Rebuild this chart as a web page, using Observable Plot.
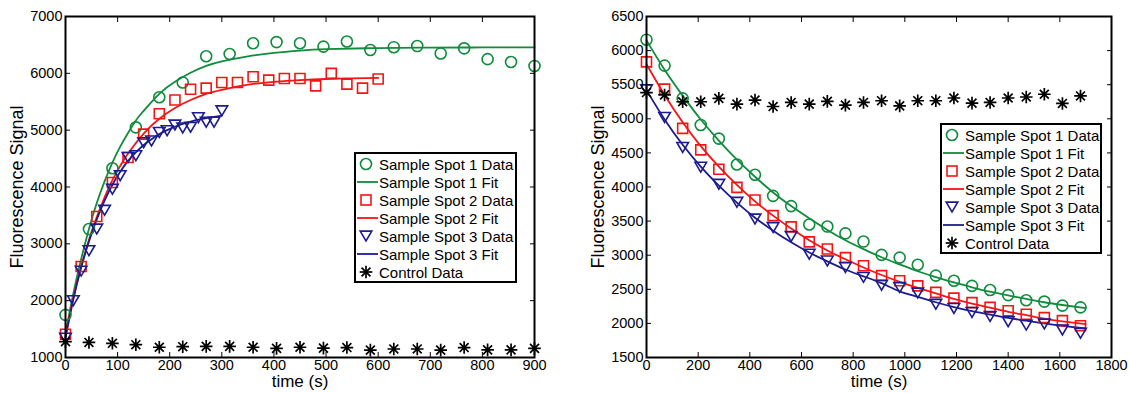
<!DOCTYPE html>
<html><head><meta charset="utf-8">
<script src="https://cdn.jsdelivr.net/npm/d3@7"></script>
<script src="https://cdn.jsdelivr.net/npm/@observablehq/plot@0.6"></script>
<style>
body{margin:0;background:#fff;width:1129px;height:393px;overflow:hidden;position:relative;font-family:"Liberation Sans",Arial,Helvetica,sans-serif;}
.panel{position:absolute;top:0;}
.legend{position:absolute;box-sizing:border-box;border:2px solid #000;background:#fff;padding-top:1px;height:131px;}
.row{display:flex;align-items:center;height:18px;font-size:15px;white-space:nowrap;color:#000;}
.row svg{flex:none;}
</style></head><body>
<div id="left" class="panel" style="left:0"></div>
<div id="right" class="panel" style="left:560px"></div>
<script>
// ---------- data: left panel (association) ----------
const leftTime1 = [0,45,90,135,180,225,270,315,360,405,450,495,540,585,630,675,720,765,810,855,900];
const leftSpot1 = [1750,3260,4330,5050,5580,5840,6300,6340,6530,6550,6530,6470,6560,6410,6460,6480,6350,6440,6250,6200,6130];
const leftTime2 = [0,30,60,90,120,150,180,210,240,270,300,330,360,390,420,450,480,510,540,570,600];
const leftSpot2 = [1410,2600,3480,4080,4520,4930,5290,5530,5720,5740,5840,5840,5940,5880,5910,5910,5780,6000,5810,5740,5900];
const leftTime3 = [0,15,30,45,60,75,90,105,120,135,150,165,180,195,210,225,240,255,270,285,300];
const leftSpot3 = [1340,2000,2520,2880,3260,3590,3960,4200,4520,4550,4780,4810,4960,4990,5090,5040,5050,5220,5140,5140,5340];
const leftControl = [1280,1265,1250,1225,1180,1190,1195,1195,1180,1160,1180,1165,1175,1130,1150,1150,1130,1175,1135,1135,1160];

const leftFitTime1 = [0,10,20,30,45,60,75,90,105,120,135,150,180,210,240,270,300,350,400,450,500,600,700,800,900];
const leftFit1 = [1420,1900,2340,2730,3260,3720,4100,4430,4710,4950,5170,5340,5640,5850,6010,6130,6210,6300,6360,6400,6425,6445,6452,6455,6455];
const leftFitTime2 = [0,10,20,30,45,60,75,90,105,120,150,180,210,240,270,300,350,400,450,500,550,600];
const leftFit2 = [1415,1850,2245,2600,3070,3470,3820,4120,4370,4590,4940,5200,5390,5530,5640,5710,5800,5850,5880,5900,5912,5920];
const leftFitTime3 = [0,15,30,45,60,75,90,105,120,135,150,165,180,195,210,225,240,255,270,285,300];
const leftFit3 = [1340,2020,2580,3040,3430,3760,4040,4270,4460,4610,4740,4840,4930,5000,5060,5110,5150,5185,5210,5235,5255];

// ---------- data: right panel (dissociation) ----------
const rightTime = [0,70,140,210,280,350,420,490,560,630,700,770,840,910,980,1050,1120,1190,1260,1330,1400,1470,1540,1610,1680];
const rightSpot1 = [6160,5780,5300,4910,4710,4330,4180,3870,3720,3450,3420,3320,3200,3005,2965,2860,2700,2625,2550,2490,2415,2340,2320,2260,2235];
const rightSpot2 = [5835,5435,4860,4545,4260,3995,3810,3580,3415,3195,3090,2965,2845,2700,2625,2550,2455,2370,2305,2235,2185,2135,2085,2040,1965];
const rightSpot3 = [5425,5020,4580,4290,4040,3775,3530,3405,3275,3015,2915,2820,2675,2560,2525,2445,2280,2220,2160,2100,2025,1975,1990,1905,1855];
const rightControl = [5385,5350,5250,5250,5300,5215,5275,5180,5240,5215,5255,5200,5240,5265,5190,5265,5265,5305,5230,5240,5305,5320,5360,5225,5335];

const rightFitTime = [0,70,140,210,280,350,420,490,560,630,700,770,840,910,980,1050,1120,1190,1260,1330,1400,1470,1540,1610,1700];
const rightFit1 = [6150,5720,5340,4990,4680,4400,4150,3920,3720,3540,3370,3220,3090,2970,2865,2765,2680,2600,2530,2465,2410,2360,2310,2270,2225];
const rightFit2 = [5800,5350,4950,4600,4300,4030,3790,3580,3390,3220,3070,2940,2820,2710,2610,2520,2440,2360,2290,2230,2170,2120,2070,2030,1990];
const rightFit3 = [5420,4990,4620,4300,4020,3770,3550,3360,3190,3040,2910,2790,2690,2590,2470,2390,2310,2240,2180,2130,2080,2040,2000,1965,1925];

// ---------- axes ----------
const leftXTicks = [0,100,200,300,400,500,600,700,800,900];
const leftYTicks = [1000,2000,3000,4000,5000,6000,7000];
const rightXTicks = [0,200,400,600,800,1000,1200,1400,1600,1800];
const rightYTicks = [1500,2000,2500,3000,3500,4000,4500,5000,5500,6000,6500];

const legendLabels = ["Sample Spot 1 Data","Sample Spot 1 Fit","Sample Spot 2 Data","Sample Spot 2 Fit","Sample Spot 3 Data","Sample Spot 3 Fit","Control Data"];

const GREEN = "#0f8c3c", RED = "#f51414", BLUE = "#1c1c8f", BLACK = "#000";

// ---------- marker symbols ----------
const squareSym = {draw(c, size){const r = Math.sqrt(size/Math.PI); c.rect(-r,-r,2*r,2*r);}};
const triDownSym = {draw(c, size){const r = Math.sqrt(size/Math.PI); const h = 0.85*r; c.moveTo(-r,-h); c.lineTo(r,-h); c.lineTo(0,h); c.closePath();}};
const starSym = {draw(c, size){const r = Math.sqrt(size/Math.PI);
  for (const a of [0,45,90,135]) {const t = a*Math.PI/180; c.moveTo(-r*Math.cos(t), -r*Math.sin(t)); c.lineTo(r*Math.cos(t), r*Math.sin(t));}}};

function panel(cfg){
  const marks = [
    Plot.line(cfg.fit1, {x: cfg.fitT1, y: cfg.fit1, stroke: GREEN, strokeWidth: 1.8, curve: "natural"}),
    Plot.line(cfg.fit2, {x: cfg.fitT2, y: cfg.fit2, stroke: RED, strokeWidth: 1.8, curve: "natural"}),
    Plot.line(cfg.fit3, {x: cfg.fitT3, y: cfg.fit3, stroke: BLUE, strokeWidth: 1.8, curve: "natural"}),
    Plot.dot(cfg.s1, {x: cfg.t1, y: cfg.s1, symbol: "circle", r: 5.5, stroke: GREEN, strokeWidth: 1.6, fill: "none"}),
    Plot.dot(cfg.s2, {x: cfg.t2, y: cfg.s2, symbol: squareSym, r: 5, stroke: RED, strokeWidth: 1.6, fill: "none"}),
    Plot.dot(cfg.s3, {x: cfg.t3, y: cfg.s3, symbol: triDownSym, r: 5.8, stroke: BLUE, strokeWidth: 1.6, fill: "none"}),
    Plot.dot(cfg.ctrl, {x: cfg.tc, y: cfg.ctrl, symbol: starSym, r: 6.3, stroke: BLACK, strokeWidth: 1.7, fill: "none"}),
    Plot.frame({stroke: BLACK, strokeWidth: 2}),
    Plot.axisX(cfg.xTicks, {anchor: "bottom", tickSize: -5, tickPadding: 7, tickFormat: d => String(d), label: null, fontSize: 14.5}),
    Plot.axisX(cfg.xTicks, {anchor: "top", tickSize: -5, tickFormat: () => "", label: null}),
    Plot.axisY(cfg.yTicks, {anchor: "left", tickSize: -5, tickPadding: 8, tickFormat: d => String(d), label: null, fontSize: 14.5}),
    Plot.axisY(cfg.yTicks, {anchor: "right", tickSize: -5, tickFormat: () => "", label: null}),
    Plot.text(["Fluorescence Signal"], {frameAnchor: "left", dx: -48, rotate: -90, fontSize: 18, textAnchor: "middle", fill: BLACK}),
    Plot.text(["time (s)"], {frameAnchor: "bottom", dy: 29, fontSize: 17, fill: BLACK})
  ];
  return Plot.plot({
    width: cfg.width, height: 393,
    marginLeft: cfg.ml, marginRight: cfg.mr, marginTop: 16, marginBottom: 36,
    x: {domain: cfg.xDomain},
    y: {domain: cfg.yDomain},
    style: {fontFamily: '"Liberation Sans", Arial, Helvetica, sans-serif', fontSize: "14px", color: "#000", background: "white", overflow: "visible"},
    marks
  });
}

function legendSymbol(i){
  const w = 23, h = 18, cx = 10, cy = 9;
  let inner = "";
  if (i === 0) inner = `<circle cx="${cx}" cy="${cy}" r="5.5" fill="none" stroke="${GREEN}" stroke-width="1.6"/>`;
  if (i === 1) inner = `<line x1="1" x2="22" y1="${cy}" y2="${cy}" stroke="${GREEN}" stroke-width="1.8"/>`;
  if (i === 2) inner = `<rect x="${cx-5}" y="${cy-5}" width="10" height="10" fill="none" stroke="${RED}" stroke-width="1.6"/>`;
  if (i === 3) inner = `<line x1="1" x2="22" y1="${cy}" y2="${cy}" stroke="${RED}" stroke-width="1.8"/>`;
  if (i === 4) inner = `<path d="M${cx-5.8},${cy-4.9}L${cx+5.8},${cy-4.9}L${cx},${cy+4.9}Z" fill="none" stroke="${BLUE}" stroke-width="1.6"/>`;
  if (i === 5) inner = `<line x1="1" x2="22" y1="${cy}" y2="${cy}" stroke="${BLUE}" stroke-width="1.8"/>`;
  if (i === 6) {
    const r = 6.3;
    inner = [0,45,90,135].map(a => {const t = a*Math.PI/180; return `<line x1="${cx - r*Math.cos(t)}" y1="${cy - r*Math.sin(t)}" x2="${cx + r*Math.cos(t)}" y2="${cy + r*Math.sin(t)}" stroke="#000" stroke-width="1.7"/>`;}).join("");
  }
  return `<svg width="${w}" height="${h}">${inner}</svg>`;
}

function legend(left, top, width){
  const div = document.createElement("div");
  div.className = "legend";
  div.style.left = left + "px"; div.style.top = top + "px"; div.style.width = width + "px";
  div.innerHTML = legendLabels.map((l, i) => `<div class="row">${legendSymbol(i)}<span>${l}</span></div>`).join("");
  document.body.appendChild(div);
}

document.getElementById("left").appendChild(panel({
  width: 560, ml: 65, mr: 26, xDomain: [0, 900], yDomain: [1000, 7000],
  xTicks: leftXTicks, yTicks: leftYTicks,
  t1: leftTime1, s1: leftSpot1, t2: leftTime2, s2: leftSpot2, t3: leftTime3, s3: leftSpot3, tc: leftTime1, ctrl: leftControl,
  fitT1: leftFitTime1, fit1: leftFit1, fitT2: leftFitTime2, fit2: leftFit2, fitT3: leftFitTime3, fit3: leftFit3
}));
document.getElementById("right").appendChild(panel({
  width: 569, ml: 86, mr: 18, xDomain: [0, 1800], yDomain: [1500, 6500],
  xTicks: rightXTicks, yTicks: rightYTicks,
  t1: rightTime, s1: rightSpot1, t2: rightTime, s2: rightSpot2, t3: rightTime, s3: rightSpot3, tc: rightTime, ctrl: rightControl,
  fitT1: rightFitTime, fit1: rightFit1, fitT2: rightFitTime, fit2: rightFit2, fitT3: rightFitTime, fit3: rightFit3
}));
legend(354, 152, 163);
legend(940, 123, 162);
</script>
</body></html>
